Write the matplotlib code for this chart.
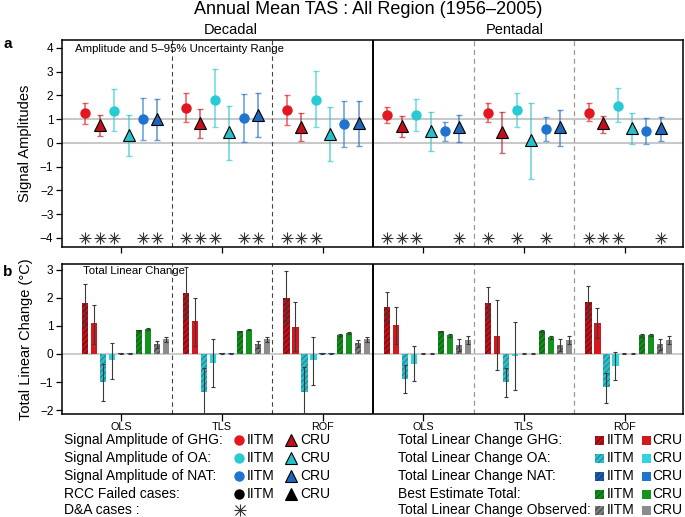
import matplotlib
matplotlib.use("Agg")
import matplotlib.pyplot as plt
import numpy as np
from matplotlib.patches import Rectangle

plt.rcParams['font.family'] = ['Liberation Sans', 'DejaVu Sans']
plt.rcParams['hatch.linewidth'] = 0.7

# ---------------- data ----------------
methods = ["OLS", "TLS", "ROF", "OLS", "TLS", "ROF"]
periods = ["Decadal", "Pentadal"]
signals = ["GHG IITM", "GHG CRU", "OA IITM", "OA CRU", "NAT IITM", "NAT CRU"]

# Panel a: signal amplitudes (best, 5%, 95%) per group
amp_best = [
    [1.26, 0.77, 1.36, 0.35, 1.01, 1.00],
    [1.47, 0.83, 1.81, 0.44, 1.03, 1.19],
    [1.38, 0.68, 1.80, 0.37, 0.79, 0.82],
    [1.17, 0.70, 1.18, 0.49, 0.48, 0.65],
    [1.25, 0.46, 1.38, 0.11, 0.59, 0.66],
    [1.26, 0.82, 1.57, 0.61, 0.49, 0.62],
]
amp_lo = [
    [0.80, 0.28, 0.51, -0.55, 0.14, 0.14],
    [0.90, 0.21, 0.67, -0.74, 0.05, 0.24],
    [0.76, 0.06, 0.65, -0.78, -0.19, -0.14],
    [0.82, 0.25, 0.52, -0.35, 0.06, 0.04],
    [0.88, -0.41, 0.67, -1.50, 0.10, -0.13],
    [0.91, 0.40, 0.88, -0.05, -0.03, 0.10],
]
amp_hi = [
    [1.70, 1.19, 2.25, 1.17, 1.87, 1.85],
    [2.12, 1.41, 3.09, 1.57, 2.04, 2.12],
    [2.02, 1.26, 3.02, 1.49, 1.77, 1.77],
    [1.50, 1.15, 1.83, 1.28, 0.90, 1.19],
    [1.66, 1.32, 2.08, 1.70, 1.07, 1.38],
    [1.66, 1.12, 2.29, 1.24, 1.03, 1.07],
]
da_cases = [
    [1, 1, 1, 0, 1, 1],
    [1, 1, 1, 0, 1, 1],
    [1, 1, 1, 0, 0, 0],
    [1, 1, 1, 0, 0, 1],
    [1, 0, 1, 0, 1, 0],
    [1, 1, 1, 0, 0, 1],
]

# Panel b: total linear change (best, lo, hi); order:
# GHG IITM, GHG CRU, OA IITM, OA CRU, NAT IITM, NAT CRU, Total IITM, Total CRU, Obs IITM, Obs CRU
tlc_best = [
    [1.83, 1.09, -1.01, -0.23, 0.03, 0.03, 0.84, 0.88, 0.36, 0.53],
    [2.16, 1.16, -1.36, -0.31, 0.03, 0.03, 0.81, 0.87, 0.35, 0.53],
    [2.00, 0.98, -1.34, -0.23, 0.03, 0.03, 0.68, 0.75, 0.38, 0.53],
    [1.69, 1.02, -0.88, -0.35, 0.01, 0.01, 0.81, 0.67, 0.31, 0.49],
    [1.83, 0.63, -1.01, -0.06, 0.01, 0.01, 0.81, 0.59, 0.31, 0.49],
    [1.84, 1.10, -1.18, -0.43, 0.01, 0.01, 0.66, 0.68, 0.35, 0.49],
]
tlc_lo = [
    [0.99, 0.37, -1.67, -0.88, 0.01, 0.01, 0.81, 0.85, 0.20, 0.43],
    [1.28, 0.28, -2.50, -1.18, 0.01, 0.01, 0.79, 0.85, 0.20, 0.43],
    [1.15, 0.11, -2.50, -1.12, 0.01, 0.01, 0.64, 0.71, 0.24, 0.43],
    [1.17, 0.36, -1.38, -0.95, 0.00, 0.00, 0.79, 0.62, 0.11, 0.34],
    [1.27, -0.58, -1.55, -1.28, 0.00, 0.00, 0.78, 0.53, 0.11, 0.34],
    [1.28, 0.57, -1.73, -0.92, 0.00, 0.00, 0.62, 0.65, 0.16, 0.34],
]
tlc_hi = [
    [2.49, 1.75, -0.36, 0.41, 0.05, 0.05, 0.87, 0.91, 0.48, 0.62],
    [3.10, 2.01, -0.50, 0.55, 0.05, 0.05, 0.83, 0.89, 0.48, 0.62],
    [2.96, 1.86, -0.47, 0.59, 0.05, 0.05, 0.72, 0.79, 0.50, 0.62],
    [2.20, 1.67, -0.38, 0.27, 0.02, 0.02, 0.83, 0.72, 0.52, 0.63],
    [2.40, 1.92, -0.49, 1.13, 0.02, 0.02, 0.84, 0.65, 0.52, 0.63],
    [2.43, 1.63, -0.67, 0.06, 0.02, 0.02, 0.70, 0.71, 0.52, 0.63],
]

# ---------------- styles ----------------
mk_colors = ["#E3171F", "#BE111B", "#2ACAD5", "#27C0CB", "#1F74D0", "#1F66B8"]
mk_shapes = ["o", "^", "o", "^", "o", "^"]
bar_fill = ["#B8121B", "#D5181E", "#2FBCC8", "#33D2DC", "#1B5BA8", "#1F74D0",
            "#128A1C", "#14931E", "#7C7C7C", "#8C8C8C"]
bar_hatchcol = ["#6E0A10", None, "#178590", None, "#0E3A70", None,
                "#0A5A10", None, "#444444", None]

W, H = 685, 517
fig = plt.figure(figsize=(W / 100, H / 100), dpi=100)

def fx(px):
    return px / W

def fy(py):
    return 1 - py / H

left, right = 61.7, 683
axa = fig.add_axes([fx(left), fy(247), fx(right - left), (247 - 40) / H])
axb = fig.add_axes([fx(left), fy(414), fx(right - left), (414 - 264) / H])

xlim = (-0.093, 6.079)
ngroup = len(methods)

for ax in (axa, axb):
    ax.set_xlim(*xlim)
    for s in ax.spines.values():
        s.set_linewidth(1.1)
    for g in (1, 2):
        ax.axvline(g, color="#444444", ls=(0, (4, 3)), lw=0.8, zorder=1)
    for g in (4, 5):
        ax.axvline(g, color="#999999", ls=(0, (4, 3)), lw=0.9, zorder=1)
    ax.axvline(3, color="black", lw=1.4, zorder=5)
    ax.set_xticks(np.arange(ngroup) + 0.5)
    ax.tick_params(axis="both", direction="out", length=4.5, width=0.9,
                   labelsize=8.5, pad=1.5)

# ---------- panel a ----------
axa.set_ylim(-4.38, 4.33)
axa.set_yticks(np.arange(-4, 5))
axa.set_yticklabels([f"{v}".replace("-", "\u2212") for v in range(-4, 5)])
axa.axhline(0, color="#C8C8C8", lw=1.5, zorder=0)
axa.axhline(1, color="#C8C8C8", lw=1.5, zorder=0)
axa.set_xticklabels([])
for g in range(ngroup):
    for i in range(6):
        x = g + (i + 1) / 7
        b = amp_best[g][i]
        axa.errorbar([x], [b], yerr=[[b - amp_lo[g][i]], [amp_hi[g][i] - b]],
                     fmt="none", ecolor=mk_colors[i], alpha=0.65, elinewidth=1.2,
                     capsize=2, capthick=1.0, zorder=2)
        if mk_shapes[i] == "o":
            axa.plot([x], [b], "o", color=mk_colors[i], ms=7.5, mec="none", zorder=3)
        else:
            axa.plot([x], [b], "^", color=mk_colors[i], ms=8, mec="black",
                     mew=0.8, zorder=3)
        if da_cases[g][i]:
            axa.plot([x], [-4], "+", color="#333333", ms=8, mew=0.8, zorder=3)
            axa.plot([x], [-4], "x", color="#333333", ms=6, mew=0.8, zorder=3)
axa.text(0.021, 0.982, "Amplitude and 5\u201395% Uncertainty Range",
         transform=axa.transAxes, ha="left", va="top", fontsize=8.2)
axa.set_ylabel("Signal Amplitudes", fontsize=10.5)
axa.yaxis.set_label_coords(-0.047, 0.5)

# ---------- panel b ----------
axb.set_ylim(-2.14, 3.21)
axb.set_yticks(np.arange(-2, 4))
axb.set_yticklabels([f"{v}".replace("-", "\u2212") for v in range(-2, 4)])
axb.axhline(0, color="#C8C8C8", lw=1.3, zorder=0)
axb.set_xticklabels(methods, fontsize=7.8)
axb.tick_params(axis="x", length=5, pad=0.5)
bw = 0.062
for g in range(ngroup):
    for k in range(10):
        x = g + 0.14 + 0.0892 * k
        b = tlc_best[g][k]
        hc = bar_hatchcol[k]
        if hc is not None:
            axb.bar([x], [b], width=bw, color=bar_fill[k], edgecolor=hc,
                    hatch="//////", linewidth=0, zorder=2)
        else:
            axb.bar([x], [b], width=bw, color=bar_fill[k], linewidth=0, zorder=2)
        axb.errorbar([x], [b], yerr=[[b - tlc_lo[g][k]], [tlc_hi[g][k] - b]],
                     fmt="none", ecolor="#3A3A3A", elinewidth=0.8, capsize=1.5,
                     capthick=0.8, zorder=3)
axb.text(0.034, 0.95, "Total Linear Change", transform=axb.transAxes,
         ha="left", va="center", fontsize=8.2)
axb.set_ylabel("Total Linear Change (\u00b0C)", fontsize=10.5)
axb.yaxis.set_label_coords(-0.046, 0.5)

# ---------- titles ----------
fig.text(fx(368), fy(9), "Annual Mean TAS : All Region (1956\u20132005)",
         ha="center", va="center", fontsize=13)
fig.text(fx(231), fy(29.5), periods[0], ha="center", va="center", fontsize=10.5)
fig.text(fx(514.5), fy(29.5), periods[1], ha="center", va="center", fontsize=10.5)
fig.text(fx(8), fy(44), "a", ha="center", va="center", fontsize=11, weight="bold")
fig.text(fx(8), fy(271.5), "b", ha="center", va="center", fontsize=11, weight="bold")

# ---------- legend ----------
lax = fig.add_axes([0, 0, 1, 1], zorder=-1)
lax.set_xlim(0, W)
lax.set_ylim(H, 0)
lax.axis("off")
rows = [440, 458, 476, 494, 510]
fs = 10
base = 3.7  # baseline offset below row centre
left_labels = ["Signal Amplitude of GHG:", "Signal Amplitude of OA:",
               "Signal Amplitude of NAT:", "RCC Failed cases:", "D&A cases :"]
left_cols = [(mk_colors[0], mk_colors[1]), (mk_colors[2], mk_colors[3]),
             (mk_colors[4], mk_colors[5]), ("black", "black")]
for r, lab in enumerate(left_labels):
    lax.text(64, rows[r] + base, lab, ha="left", va="baseline", fontsize=fs)
for r, (c1, c2) in enumerate(left_cols):
    lax.plot([239], [rows[r]], "o", color=c1, ms=7.5, mec="none")
    lax.text(247, rows[r] + base, "IITM", ha="left", va="baseline", fontsize=fs)
    lax.plot([291.5], [rows[r] - 0.5], "^", color=c2, ms=8.5,
             mec="black", mew=0.8)
    lax.text(300.5, rows[r] + base, "CRU", ha="left", va="baseline", fontsize=fs)
lax.plot([240], [rows[4]], "+", color="#333333", ms=9, mew=0.8)
lax.plot([240], [rows[4]], "x", color="#333333", ms=6.5, mew=0.8)

right_labels = ["Total Linear Change GHG:", "Total Linear Change OA:",
                "Total Linear Change NAT:", "Best Estimate Total:",
                "Total Linear Change Observed:"]
for r, lab in enumerate(right_labels):
    lax.text(398, rows[r] + base, lab, ha="left", va="baseline", fontsize=fs)
    ki, kc = 2 * r, 2 * r + 1
    lax.add_patch(Rectangle((595.5, rows[r] - 4.5), 9, 9, facecolor=bar_fill[ki],
                            edgecolor=bar_hatchcol[ki], hatch="//////", lw=0))
    lax.text(607, rows[r] + base, "IITM", ha="left", va="baseline", fontsize=fs)
    lax.add_patch(Rectangle((642, rows[r] - 4.5), 9, 9, facecolor=bar_fill[kc],
                            lw=0))
    lax.text(652, rows[r] + base, "CRU", ha="left", va="baseline", fontsize=fs)

fig.savefig("out.png", dpi=100)
